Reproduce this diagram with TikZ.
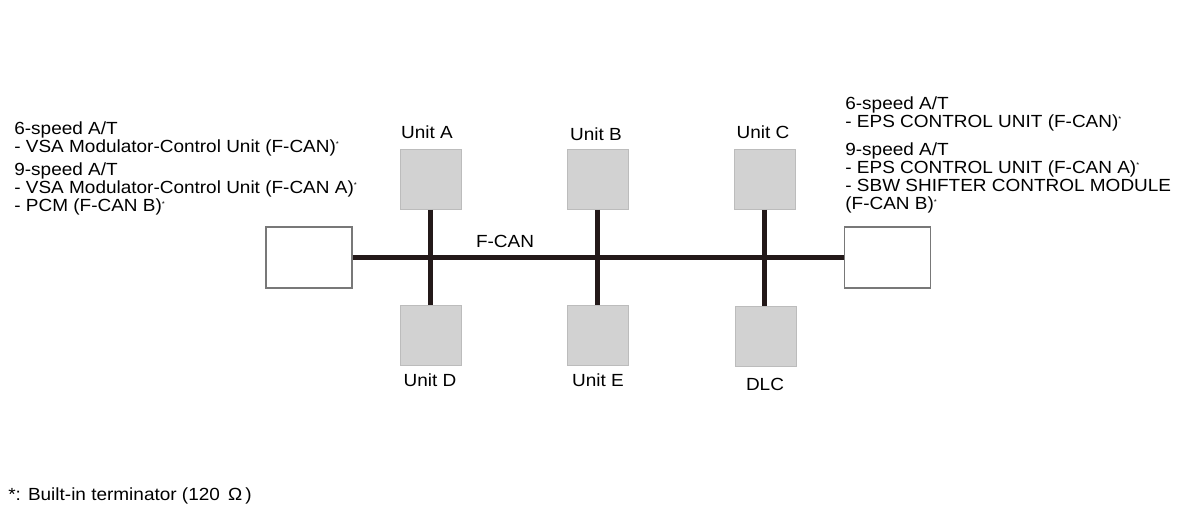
\documentclass[tikz,border=0pt]{standalone}
\usepackage{fontspec}
\setmainfont{Liberation Sans}[FakeStretch=1.08]
\definecolor{unitfill}{RGB}{210,210,210}
\definecolor{unitedge}{RGB}{188,188,188}
\definecolor{endedge}{RGB}{120,120,120}
\definecolor{busline}{RGB}{35,25,25}
\newcommand{\term}{\smash{\raisebox{0.6ex}{\fontsize{4}{4}\selectfont *}}}
\begin{document}
\begin{tikzpicture}[x=0.02cm, y=-0.02cm, font=\fontsize{10}{10.4}\selectfont, unit node/.style={rectangle,draw=unitedge,fill=unitfill,minimum width=1.22cm,minimum height=1.2cm,inner sep=0pt}, end node/.style={rectangle,draw=endedge,fill=white,line width=0.8pt,minimum width=1.72cm,minimum height=1.22cm,inner sep=0pt}, bus/.style={draw=busline,line width=2.6pt}]
\useasboundingbox (0,0) rectangle (1200,517);
\node [end node](left) at (309,257.5) {};
\node [end node](right) at (887.5,257.5) {};
\node [unit node](ua) at (430.5,179.5) {};
\node [unit node](ub) at (597.5,179.5) {};
\node [unit node](uc) at (764.5,179.5) {};
\node [unit node](ud) at (430.5,335) {};
\node [unit node](ue) at (597.5,335) {};
\node [unit node](dlc) at (765.5,336) {};
\draw [bus] (left.east) -- (right.west);
\draw [bus] (ua.south) -- (ud.north);
\draw [bus] (ub.south) -- (ue.north);
\draw [bus] (uc.south) -- (uc.south |- dlc.north);
\begin{scope}[every node/.style={inner sep=0pt}]
\node (la) at (427,132) {Unit A};
\node (lb) at (596,134) {Unit B};
\node (lc) at (763,132) {Unit C};
\node (ld) at (430,380) {Unit D};
\node (le) at (598,380) {Unit E};
\node (ldlc) at (765,384) {DLC};
\node (fcan) at (505,241) {F-CAN};
\node [anchor=north west,align=left](l6) at (14,121) {6-speed A/T\\- VSA Modulator-Control Unit (F-CAN)\term};
\node [anchor=north west,align=left](l9) at (14,162) {9-speed A/T\\- VSA Modulator-Control Unit (F-CAN A)\term\\- PCM (F-CAN B)\term};
\node [anchor=north west,align=left](r6) at (845,96) {6-speed A/T\\- EPS CONTROL UNIT (F-CAN)\term};
\node [anchor=north west,align=left](r9) at (845,142) {9-speed A/T\\- EPS CONTROL UNIT (F-CAN A)\term\\- SBW SHIFTER CONTROL MODULE\\(F-CAN B)\term};
\node [anchor=west](note) at (8,496) {*: Built-in terminator (120\ \,Ω\,)};
\end{scope}
\end{tikzpicture}
\end{document}
